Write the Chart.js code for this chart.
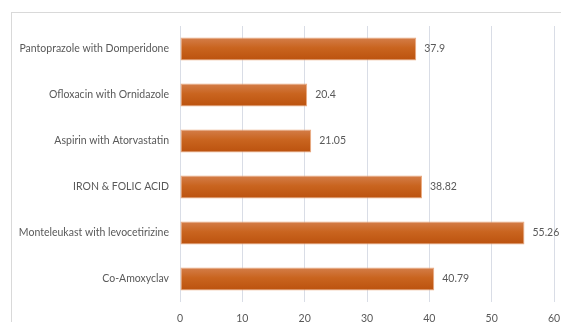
<!DOCTYPE html>
<html>
<head>
<meta charset="utf-8">
<script src="https://cdn.jsdelivr.net/npm/chart.js@4"></script>
<style>
  html, body { margin: 0; padding: 0; background: #fff; overflow: hidden; }
  #frame { position: absolute; left: 11px; top: 12px; width: 600px; height: 400px; border: 1px solid #d9d9d9; }
  #wrap { position: absolute; left: 0; top: 0; width: 561px; height: 322px; }
</style>
</head>
<body>
<div id="frame"></div>
<div id="wrap"><canvas id="chart-canvas" width="561" height="322"></canvas></div>
<script>
// Datos del gráfico
const categories = [
  'Pantoprazole with Domperidone',
  'Ofloxacin with Ornidazole',
  'Aspirin with Atorvastatin',
  'IRON & FOLIC ACID',
  'Monteleukast with levocetirizine',
  'Co-Amoxyclav'
];
const values = [37.9, 20.4, 21.05, 38.82, 55.26, 40.79];
const valueLabels = ['37.9', '20.4', '21.05', '38.82', '55.26', '40.79'];
const xTicks = [0, 10, 20, 30, 40, 50, 60];

const textColor = '#595959';
const fontFamily = 'Lato, "Open Sans", sans-serif';
const fontSize = 10.5;
const barPct = 0.5;

// Degradado vertical de cada barra, calculado desde la escala Y
function barGradient(context) {
  const chart = context.chart;
  const yScale = chart.scales.y;
  if (!chart.chartArea || !yScale || context.dataIndex === undefined) return '#C55A11';
  const cy = yScale.getPixelForValue(context.dataIndex);
  const h = (chart.chartArea.bottom - chart.chartArea.top) / categories.length * barPct;
  if (!Number.isFinite(cy) || !Number.isFinite(h) || h <= 0) return '#C55A11';
  const g = chart.ctx.createLinearGradient(0, cy - h / 2, 0, cy + h / 2);
  g.addColorStop(0, '#D47E4A');
  g.addColorStop(0.45, '#C9641F');
  g.addColorStop(1, '#BB520E');
  return g;
}

// Etiquetas de valor al final de cada barra
const valueLabelPlugin = {
  id: 'valueLabels',
  afterDatasetsDraw(chart) {
    const ctx = chart.ctx;
    const meta = chart.getDatasetMeta(0);
    ctx.save();
    ctx.fillStyle = textColor;
    ctx.font = fontSize + 'px ' + fontFamily;
    ctx.textBaseline = 'middle';
    ctx.textAlign = 'left';
    meta.data.forEach((bar, i) => {
      ctx.fillText(valueLabels[i], bar.x + 8, bar.y);
    });
    ctx.restore();
  }
};

const ctx = document.getElementById('chart-canvas').getContext('2d');
new Chart(ctx, {
  type: 'bar',
  data: {
    labels: categories,
    datasets: [{
      data: values,
      backgroundColor: barGradient,
      borderColor: '#EBAA80',
      borderWidth: 1,
      borderSkipped: false,
      barPercentage: barPct,
      categoryPercentage: 1.0
    }]
  },
  options: {
    indexAxis: 'y',
    responsive: false,
    animation: false,
    layout: { padding: { top: 26, right: 7, left: 0, bottom: 0 } },
    plugins: { legend: { display: false }, tooltip: { enabled: false } },
    scales: {
      x: {
        min: 0,
        max: 60,
        afterBuildTicks: scale => { scale.ticks = xTicks.map(v => ({ value: v })); },
        afterFit: scale => { scale.height = 20; scale.paddingRight = 0; scale.paddingLeft = 0; },
        grid: { color: '#d9dde6', lineWidth: 1, drawTicks: false },
        border: { display: false },
        ticks: { color: textColor, font: { family: fontFamily, size: fontSize }, padding: 10 }
      },
      y: {
        afterFit: scale => { scale.width = 180; },
        grid: { display: false, drawTicks: false },
        border: { display: false },
        ticks: { color: textColor, font: { family: fontFamily, size: fontSize }, padding: 11 }
      }
    }
  },
  plugins: [valueLabelPlugin]
});
</script>
</body>
</html>
